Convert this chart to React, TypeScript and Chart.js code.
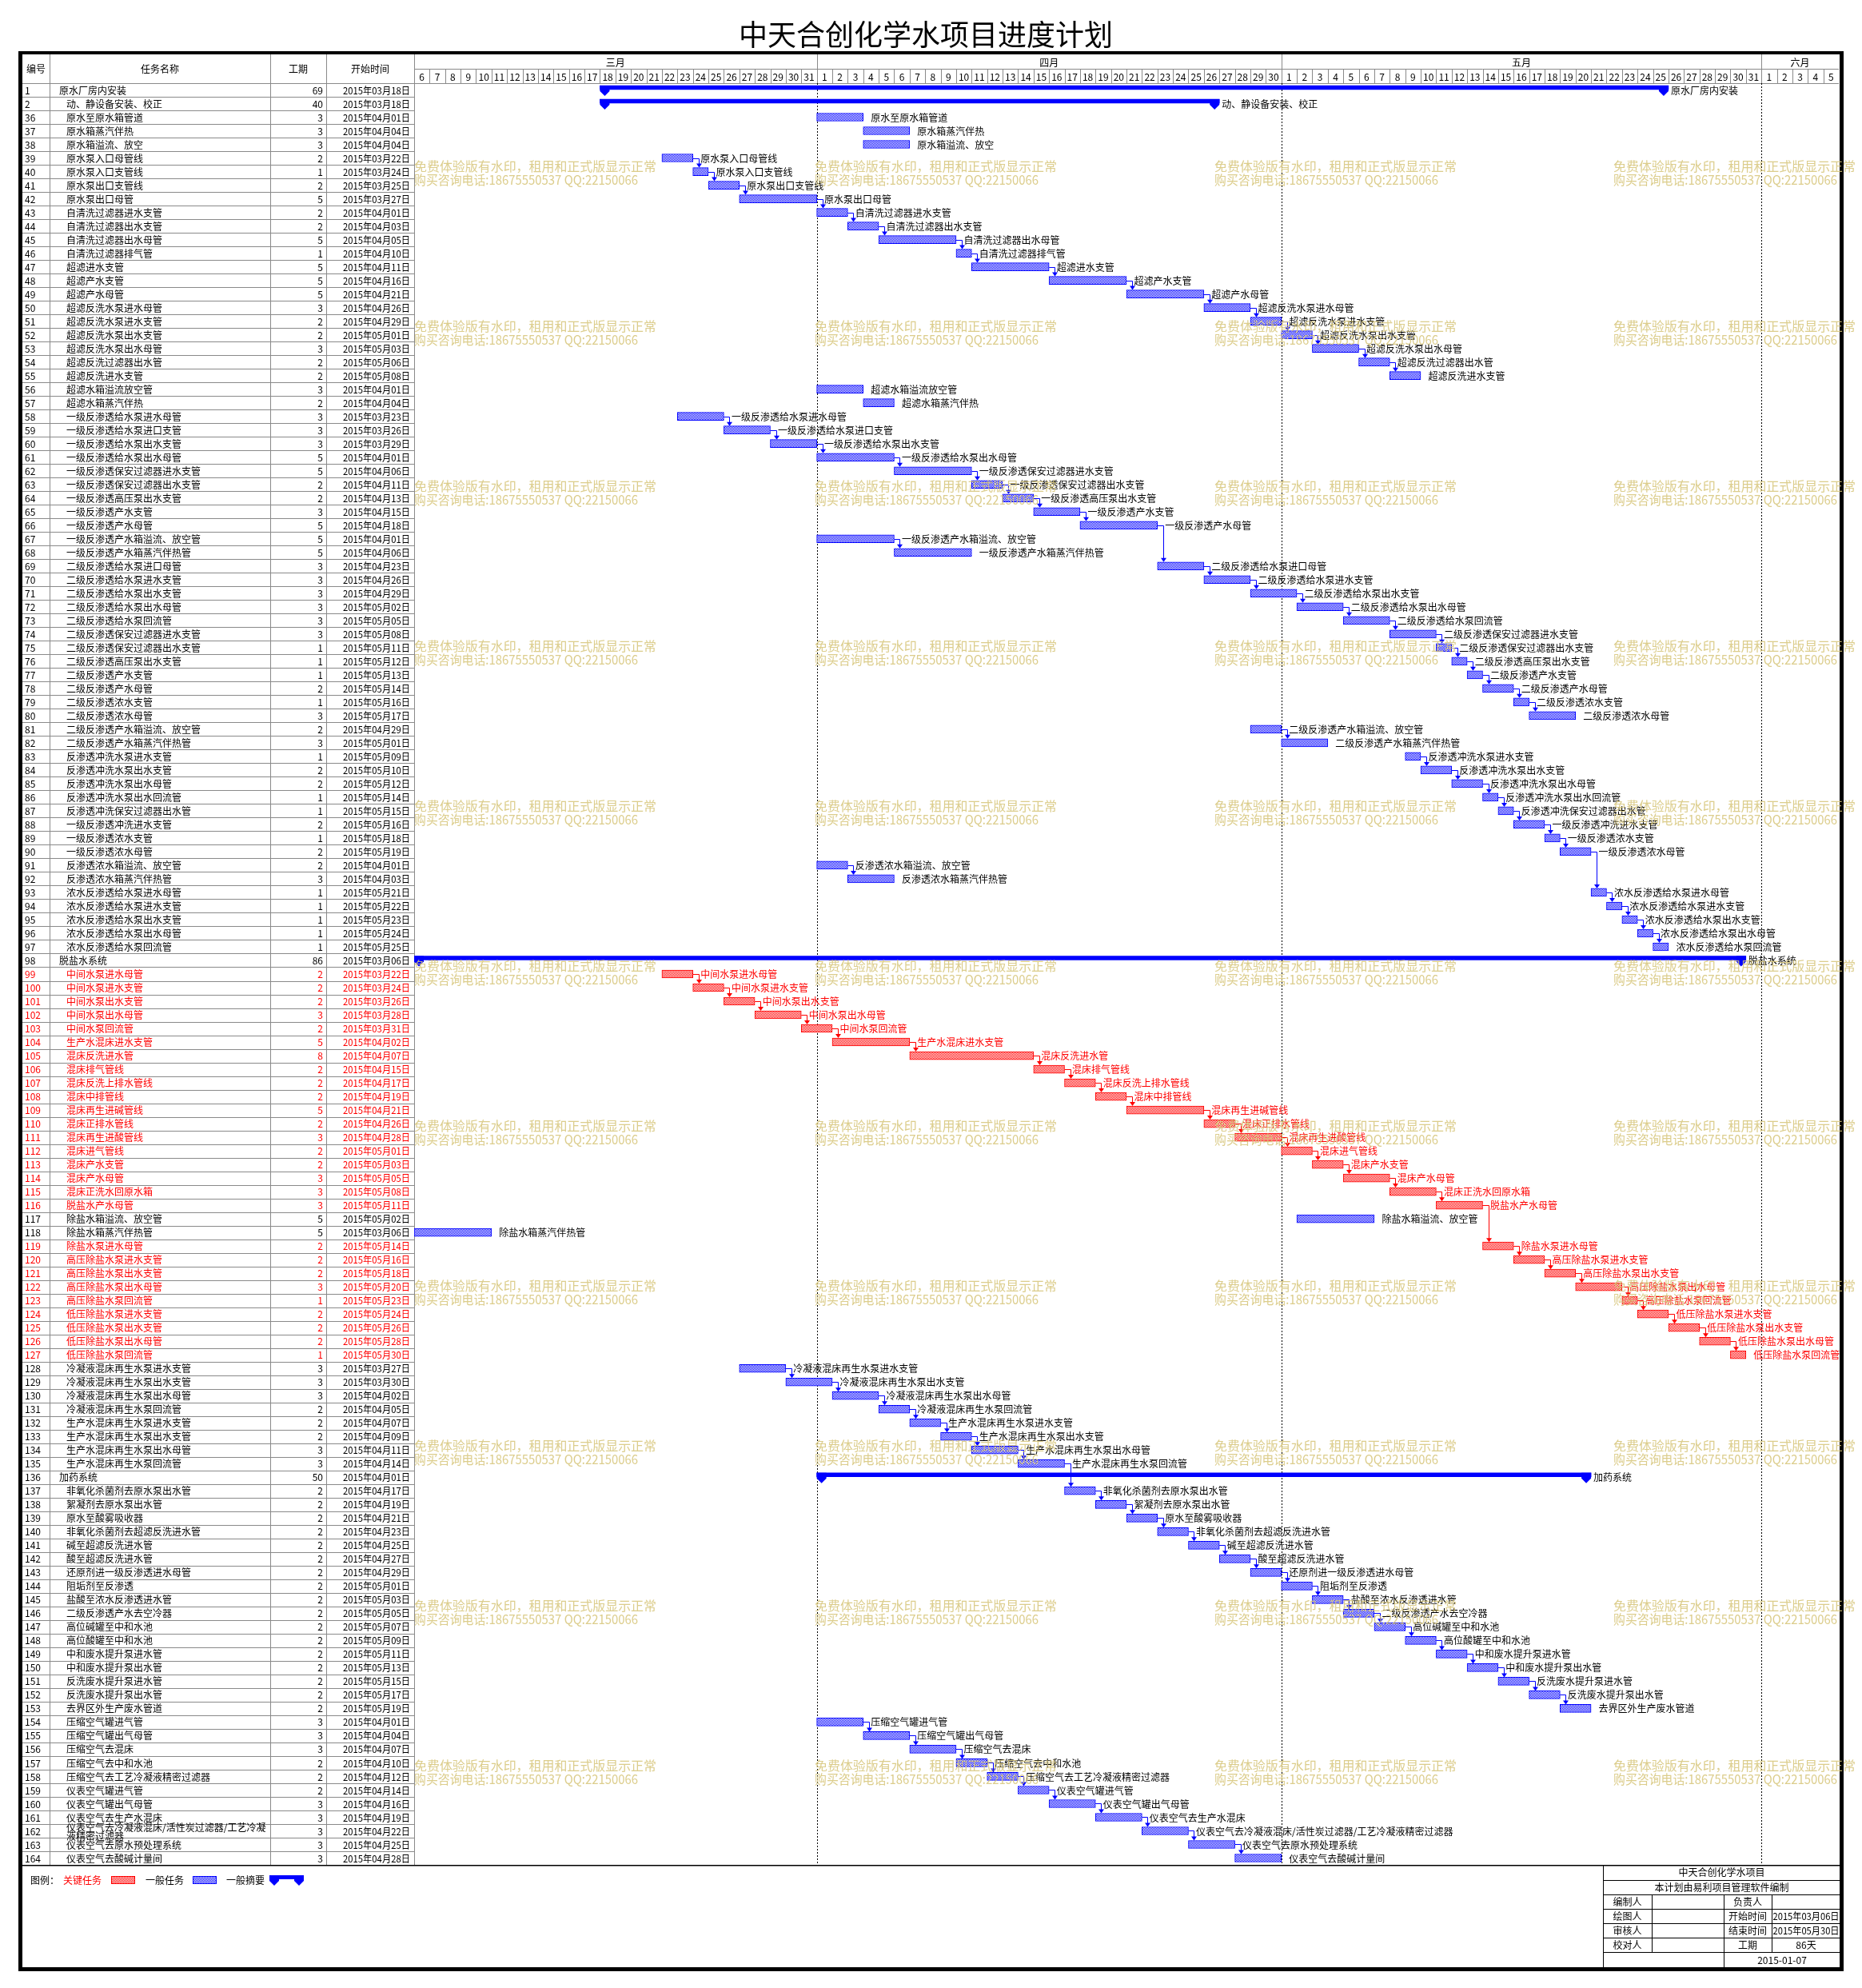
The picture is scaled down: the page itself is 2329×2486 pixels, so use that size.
import React, { useEffect, useRef } from "react";
import { Chart, registerables } from "chart.js";

Chart.register(...registerables);

// ---------------- data ----------------
const chartTitle = "中天合创化学水项目进度计划";
const columnHeaders = ["编号", "任务名称", "工期", "开始时间"];
const monthNames = ["三月", "四月", "五月", "六月"];
const monthFirstShownDay = [6, 1, 1, 1];
const monthShownDays = [26, 30, 31, 5];

const taskIds = [
  1, 2, 36, 37, 38, 39, 40, 41, 42, 43, 44, 45, 46, 47, 48, 49, 50, 51, 52, 53, 54, 55, 56, 57,
  58, 59, 60, 61, 62, 63, 64, 65, 66, 67, 68, 69, 70, 71, 72, 73, 74, 75, 76, 77, 78, 79, 80,
  81, 82, 83, 84, 85, 86, 87, 88, 89, 90, 91, 92, 93, 94, 95, 96, 97, 98, 99, 100, 101, 102,
  103, 104, 105, 106, 107, 108, 109, 110, 111, 112, 113, 114, 115, 116, 117, 118, 119, 120,
  121, 122, 123, 124, 125, 126, 127, 128, 129, 130, 131, 132, 133, 134, 135, 136, 137, 138,
  139, 140, 141, 142, 143, 144, 145, 146, 147, 148, 149, 150, 151, 152, 153, 154, 155, 156,
  157, 158, 159, 160, 161, 162, 163, 164,
];

const taskNames = [
  "原水厂房内安装", "动、静设备安装、校正", "原水至原水箱管道", "原水箱蒸汽伴热", "原水箱溢流、放空",
  "原水泵入口母管线", "原水泵入口支管线", "原水泵出口支管线", "原水泵出口母管", "自清洗过滤器进水支管",
  "自清洗过滤器出水支管", "自清洗过滤器出水母管", "自清洗过滤器排气管", "超滤进水支管", "超滤产水支管",
  "超滤产水母管", "超滤反洗水泵进水母管", "超滤反洗水泵进水支管", "超滤反洗水泵出水支管", "超滤反洗水泵出水母管",
  "超滤反洗过滤器出水管", "超滤反洗进水支管", "超滤水箱溢流放空管", "超滤水箱蒸汽伴热",
  "一级反渗透给水泵进水母管", "一级反渗透给水泵进口支管", "一级反渗透给水泵出水支管", "一级反渗透给水泵出水母管",
  "一级反渗透保安过滤器进水支管", "一级反渗透保安过滤器出水支管", "一级反渗透高压泵出水支管", "一级反渗透产水支管",
  "一级反渗透产水母管", "一级反渗透产水箱溢流、放空管", "一级反渗透产水箱蒸汽伴热管", "二级反渗透给水泵进口母管",
  "二级反渗透给水泵进水支管", "二级反渗透给水泵出水支管", "二级反渗透给水泵出水母管", "二级反渗透给水泵回流管",
  "二级反渗透保安过滤器进水支管", "二级反渗透保安过滤器出水支管", "二级反渗透高压泵出水支管", "二级反渗透产水支管",
  "二级反渗透产水母管", "二级反渗透浓水支管", "二级反渗透浓水母管", "二级反渗透产水箱溢流、放空管",
  "二级反渗透产水箱蒸汽伴热管", "反渗透冲洗水泵进水支管", "反渗透冲洗水泵出水支管", "反渗透冲洗水泵出水母管",
  "反渗透冲洗水泵出水回流管", "反渗透冲洗保安过滤器出水管", "一级反渗透冲洗进水支管", "一级反渗透浓水支管",
  "一级反渗透浓水母管", "反渗透浓水箱溢流、放空管", "反渗透浓水箱蒸汽伴热管", "浓水反渗透给水泵进水母管",
  "浓水反渗透给水泵进水支管", "浓水反渗透给水泵出水支管", "浓水反渗透给水泵出水母管", "浓水反渗透给水泵回流管",
  "脱盐水系统", "中间水泵进水母管", "中间水泵进水支管", "中间水泵出水支管", "中间水泵出水母管", "中间水泵回流管",
  "生产水混床进水支管", "混床反洗进水管", "混床排气管线", "混床反洗上排水管线", "混床中排管线", "混床再生进碱管线",
  "混床正排水管线", "混床再生进酸管线", "混床进气管线", "混床产水支管", "混床产水母管", "混床正洗水回原水箱",
  "脱盐水产水母管", "除盐水箱溢流、放空管", "除盐水箱蒸汽伴热管", "除盐水泵进水母管", "高压除盐水泵进水支管",
  "高压除盐水泵出水支管", "高压除盐水泵出水母管", "高压除盐水泵回流管", "低压除盐水泵进水支管", "低压除盐水泵出水支管",
  "低压除盐水泵出水母管", "低压除盐水泵回流管", "冷凝液混床再生水泵进水支管", "冷凝液混床再生水泵出水支管",
  "冷凝液混床再生水泵出水母管", "冷凝液混床再生水泵回流管", "生产水混床再生水泵进水支管", "生产水混床再生水泵出水支管",
  "生产水混床再生水泵出水母管", "生产水混床再生水泵回流管", "加药系统", "非氧化杀菌剂去原水泵出水管",
  "絮凝剂去原水泵出水管", "原水至酸雾吸收器", "非氧化杀菌剂去超滤反洗进水管", "碱至超滤反洗进水管",
  "酸至超滤反洗进水管", "还原剂进一级反渗透进水母管", "阻垢剂至反渗透", "盐酸至浓水反渗透进水管",
  "二级反渗透产水去空冷器", "高位碱罐至中和水池", "高位酸罐至中和水池", "中和废水提升泵进水管", "中和废水提升泵出水管",
  "反洗废水提升泵进水管", "反洗废水提升泵出水管", "去界区外生产废水管道", "压缩空气罐进气管", "压缩空气罐出气母管",
  "压缩空气去混床", "压缩空气去中和水池", "压缩空气去工艺冷凝液精密过滤器", "仪表空气罐进气管", "仪表空气罐出气母管",
  "仪表空气去生产水混床", "仪表空气去冷凝液混床/活性炭过滤器/工艺冷凝液精密过滤器", "仪表空气去原水预处理系统",
  "仪表空气去酸碱计量间",
];

const taskDurations = [
  69, 40, 3, 3, 3, 2, 1, 2, 5, 2, 2, 5, 1, 5, 5, 5, 3, 2, 2, 3, 2, 2, 3, 2,
  3, 3, 3, 5, 5, 2, 2, 3, 5, 5, 5, 3, 3, 3, 3, 3, 3, 1, 1, 1, 2, 1, 3,
  2, 3, 1, 2, 2, 1, 1, 2, 1, 2, 2, 3, 1, 1, 1, 1, 1, 86, 2, 2, 2, 3,
  2, 5, 8, 2, 2, 2, 5, 2, 3, 2, 2, 3, 3, 3, 5, 5, 2, 2,
  2, 3, 1, 2, 2, 2, 1, 3, 3, 3, 2, 2, 2, 3, 3, 50, 2, 2,
  2, 2, 2, 2, 2, 2, 2, 2, 2, 2, 2, 2, 2, 2, 2, 3, 3, 3,
  2, 2, 2, 3, 3, 3, 3, 3,
];

const taskStarts = [
  "2015年03月18日", "2015年03月18日", "2015年04月01日", "2015年04月04日", "2015年04月04日", "2015年03月22日",
  "2015年03月24日", "2015年03月25日", "2015年03月27日", "2015年04月01日", "2015年04月03日", "2015年04月05日",
  "2015年04月10日", "2015年04月11日", "2015年04月16日", "2015年04月21日", "2015年04月26日", "2015年04月29日",
  "2015年05月01日", "2015年05月03日", "2015年05月06日", "2015年05月08日", "2015年04月01日", "2015年04月04日",
  "2015年03月23日", "2015年03月26日", "2015年03月29日", "2015年04月01日", "2015年04月06日", "2015年04月11日",
  "2015年04月13日", "2015年04月15日", "2015年04月18日", "2015年04月01日", "2015年04月06日", "2015年04月23日",
  "2015年04月26日", "2015年04月29日", "2015年05月02日", "2015年05月05日", "2015年05月08日", "2015年05月11日",
  "2015年05月12日", "2015年05月13日", "2015年05月14日", "2015年05月16日", "2015年05月17日", "2015年04月29日",
  "2015年05月01日", "2015年05月09日", "2015年05月10日", "2015年05月12日", "2015年05月14日", "2015年05月15日",
  "2015年05月16日", "2015年05月18日", "2015年05月19日", "2015年04月01日", "2015年04月03日", "2015年05月21日",
  "2015年05月22日", "2015年05月23日", "2015年05月24日", "2015年05月25日", "2015年03月06日", "2015年03月22日",
  "2015年03月24日", "2015年03月26日", "2015年03月28日", "2015年03月31日", "2015年04月02日", "2015年04月07日",
  "2015年04月15日", "2015年04月17日", "2015年04月19日", "2015年04月21日", "2015年04月26日", "2015年04月28日",
  "2015年05月01日", "2015年05月03日", "2015年05月05日", "2015年05月08日", "2015年05月11日", "2015年05月02日",
  "2015年03月06日", "2015年05月14日", "2015年05月16日", "2015年05月18日", "2015年05月20日", "2015年05月23日",
  "2015年05月24日", "2015年05月26日", "2015年05月28日", "2015年05月30日", "2015年03月27日", "2015年03月30日",
  "2015年04月02日", "2015年04月05日", "2015年04月07日", "2015年04月09日", "2015年04月11日", "2015年04月14日",
  "2015年04月01日", "2015年04月17日", "2015年04月19日", "2015年04月21日", "2015年04月23日", "2015年04月25日",
  "2015年04月27日", "2015年04月29日", "2015年05月01日", "2015年05月03日", "2015年05月05日", "2015年05月07日",
  "2015年05月09日", "2015年05月11日", "2015年05月13日", "2015年05月15日", "2015年05月17日", "2015年05月19日",
  "2015年04月01日", "2015年04月04日", "2015年04月07日", "2015年04月10日", "2015年04月12日", "2015年04月14日",
  "2015年04月16日", "2015年04月19日", "2015年04月22日", "2015年04月25日", "2015年04月28日",
];

const summaryTaskIds = [1, 2, 98, 136];
const topLevelTaskIds = [1, 98, 136];
const criticalTaskIds = [
  99, 100, 101, 102, 103, 104, 105, 106, 107, 108, 109, 110, 111, 112, 113, 114, 115, 116,
  119, 120, 121, 122, 123, 124, 125, 126, 127,
];

// predecessor chains (each consecutive pair is a finish-to-start link)
const linkChains = [
  [39, 40, 41, 42, 43, 44, 45, 46, 47, 48, 49, 50, 51, 52, 53, 54, 55],
  [58, 59, 60, 61, 62, 63, 64, 65, 66, 69, 70, 71, 72, 73, 74, 75, 76, 77, 78, 79, 80],
  [67, 68],
  [81, 82],
  [83, 84, 85, 86, 87, 88, 89, 90, 93, 94, 95, 96, 97],
  [91, 92],
  [99, 100, 101, 102, 103, 104, 105, 106, 107, 108, 109, 110, 111, 112, 113, 114, 115, 116,
    119, 120, 121, 122, 123, 124, 125, 126, 127],
  [128, 129, 130, 131, 132, 133, 134, 135, 137, 138, 139, 140, 141, 142, 143, 144, 145, 146,
    147, 148, 149, 150, 151, 152, 153],
  [154, 155, 156, 157, 158, 159, 160, 161, 162, 163, 164],
];

const legendTitle = "图例：";
const legendCritical = "关键任务";
const legendNormal = "一般任务";
const legendSummary = "一般摘要";

const footerTitle = "中天合创化学水项目";
const footerNote = "本计划由易利项目管理软件编制";
const footerLeftLabels = ["编制人", "绘图人", "审核人", "校对人"];
const footerRightLabels = ["负责人", "开始时间", "结束时间", "工期"];
const footerRightValues = ["", "2015年03月06日", "2015年05月30日", "86天"];
const footerDate = "2015-01-07";

const watermarkLines = ["免费体验版有水印，租用和正式版显示正常", "购买咨询电话:18675550537 QQ:22150066"];

// ---------------- helpers ----------------
const CJK = '"Noto Sans CJK SC", "Noto Sans", sans-serif';
const totalDays = monthShownDays.reduce((a, b) => a + b, 0);

function dayIndex(s: string): number {
  const m = parseInt(s.slice(5, 7), 10);
  const d = parseInt(s.slice(8, 10), 10);
  let off = 0;
  for (let k = 0; k < m - 3; k++) off += monthShownDays[k];
  return off + d - monthFirstShownDay[m - 3];
}

const taskRanges = taskIds.map((_, i) => {
  const s = dayIndex(taskStarts[i]);
  return [s, s + taskDurations[i]];
});

function kindOf(id: number): string {
  if (summaryTaskIds.includes(id)) return "S";
  if (criticalTaskIds.includes(id)) return "C";
  return "N";
}

function makePattern(color: string): CanvasPattern | string {
  const c = document.createElement("canvas");
  c.width = 2;
  c.height = 2;
  const g = c.getContext("2d");
  if (!g) return color;
  g.fillStyle = "#ffffff";
  g.fillRect(0, 0, 2, 2);
  g.fillStyle = color;
  g.fillRect(0, 0, 1, 1);
  g.fillRect(1, 1, 1, 1);
  const p = g.createPattern(c, "repeat");
  return p || color;
}

// layout constants
const COL_X = [28, 62, 338, 408, 518];
const HEAD_TOP = 68;
const HEAD_MID = 86;

const ganttPlugin = {
  id: "ganttDecor",
  beforeDraw(chart: any) {
    const ctx: CanvasRenderingContext2D = chart.ctx;
    const xs = chart.scales.x;
    const ys = chart.scales.y;
    const area = chart.chartArea;
    const n = taskIds.length;
    const rowH = (area.bottom - area.top) / n;
    ctx.save();
    ctx.fillStyle = "#ffffff";
    ctx.fillRect(0, 0, chart.width, chart.height);

    // title
    ctx.fillStyle = "#000";
    ctx.font = `36px ${CJK}`;
    ctx.textAlign = "center";
    ctx.textBaseline = "middle";
    ctx.fillText(chartTitle, 1158, 43);

    const hline = (x1: number, x2: number, y: number) => {
      const yy = Math.round(y) + 0.5;
      ctx.beginPath();
      ctx.moveTo(x1, yy);
      ctx.lineTo(x2, yy);
      ctx.stroke();
    };
    const vline = (x: number, y1: number, y2: number) => {
      const xx = Math.round(x) + 0.5;
      ctx.beginPath();
      ctx.moveTo(xx, y1);
      ctx.lineTo(xx, y2);
      ctx.stroke();
    };

    // grid (grey)
    ctx.strokeStyle = "#8a8a8a";
    ctx.lineWidth = 1;
    hline(COL_X[0], area.right, area.top);
    hline(area.left, area.right, HEAD_MID);
    for (let k = 1; k < COL_X.length; k++) vline(COL_X[k], HEAD_TOP, area.bottom);
    for (let i = 0; i < n; i++) {
      const yb = ys.getPixelForValue(i) + rowH / 2;
      hline(COL_X[0], area.left, yb);
    }
    for (let d = 1; d < totalDays; d++) vline(xs.getPixelForValue(d), HEAD_MID, area.top);
    let acc = 0;
    for (let m = 0; m < monthShownDays.length - 1; m++) {
      acc += monthShownDays[m];
      vline(xs.getPixelForValue(acc), HEAD_TOP, HEAD_MID);
    }

    // header text
    ctx.fillStyle = "#000";
    ctx.font = `12px ${CJK}`;
    ctx.textAlign = "center";
    ctx.textBaseline = "middle";
    for (let k = 0; k < columnHeaders.length; k++) {
      ctx.fillText(columnHeaders[k], (COL_X[k] + COL_X[k + 1]) / 2, (HEAD_TOP + area.top) / 2);
    }
    acc = 0;
    for (let m = 0; m < monthNames.length; m++) {
      const x0 = xs.getPixelForValue(acc);
      const x1 = xs.getPixelForValue(acc + monthShownDays[m]);
      ctx.fillText(monthNames[m], (x0 + x1) / 2, (HEAD_TOP + HEAD_MID) / 2 + 1);
      for (let d = 0; d < monthShownDays[m]; d++) {
        const a = xs.getPixelForValue(acc + d);
        const b = xs.getPixelForValue(acc + d + 1);
        ctx.fillText(String(monthFirstShownDay[m] + d), (a + b) / 2, (HEAD_MID + area.top) / 2 + 1, b - a - 2);
      }
      acc += monthShownDays[m];
    }

    // month boundary dotted lines in body
    ctx.strokeStyle = "#000";
    ctx.setLineDash([2, 2]);
    acc = 0;
    for (let m = 0; m < monthShownDays.length - 1; m++) {
      acc += monthShownDays[m];
      vline(xs.getPixelForValue(acc), area.top, area.bottom);
    }
    ctx.setLineDash([]);

    // table rows
    ctx.font = `12px ${CJK}`;
    ctx.textBaseline = "middle";
    for (let i = 0; i < n; i++) {
      const id = taskIds[i];
      const y = ys.getPixelForValue(i) + 0.5;
      const color = kindOf(id) === "C" ? "#ff0000" : "#000000";
      ctx.fillStyle = color;
      ctx.textAlign = "left";
      ctx.fillText(String(id), 31, y);
      const nx = topLevelTaskIds.includes(id) ? 74 : 83;
      const avail = COL_X[2] - nx - 2;
      const name = taskNames[i];
      if (ctx.measureText(name).width > avail) {
        let cut = name.length;
        while (cut > 1 && ctx.measureText(name.slice(0, cut)).width > avail) cut--;
        ctx.fillText(name.slice(0, cut), nx, y - 4.5);
        ctx.fillText(name.slice(cut), nx, y + 6.8);
      } else {
        ctx.fillText(name, nx, y);
      }
      ctx.textAlign = "right";
      ctx.fillText(String(taskDurations[i]), 404, y);
      ctx.fillText(taskStarts[i], 513, y, 84);
    }
    ctx.restore();
  },
  beforeDatasetDraw(chart: any, args: any) {
    if (args.index === 2) {
      chart.ctx.save();
      chart.ctx.translate(0, -3);
    }
  },
  afterDatasetDraw(chart: any, args: any) {
    if (args.index === 2) chart.ctx.restore();
  },
  afterDatasetsDraw(chart: any) {
    const ctx: CanvasRenderingContext2D = chart.ctx;
    const xs = chart.scales.x;
    const ys = chart.scales.y;
    const area = chart.chartArea;
    const n = taskIds.length;
    ctx.save();

    const drawCaps = (xa: number, xb: number, t: number) => {
      const cap = (x0: number, x1: number) => {
        const cx = (x0 + x1) / 2;
        ctx.beginPath();
        ctx.moveTo(x0, t);
        ctx.lineTo(x1, t);
        ctx.lineTo(x1, t + 7);
        ctx.lineTo(cx, t + 13);
        ctx.lineTo(x0, t + 7);
        ctx.closePath();
        ctx.fill();
      };
      cap(xa, xa + 12);
      cap(xb - 12, xb);
    };

    // summary caps
    ctx.fillStyle = "#0000ff";
    for (let i = 0; i < n; i++) {
      if (kindOf(taskIds[i]) !== "S") continue;
      const xa = xs.getPixelForValue(taskRanges[i][0]);
      const xb = xs.getPixelForValue(taskRanges[i][1]);
      const t = ys.getPixelForValue(i) - 5.5;
      drawCaps(xa, xb, t);
    }

    // links
    ctx.lineWidth = 1;
    for (const chain of linkChains) {
      for (let k = 0; k < chain.length - 1; k++) {
        const ia = taskIds.indexOf(chain[k]);
        const ib = taskIds.indexOf(chain[k + 1]);
        const crit = kindOf(chain[k]) === "C" && kindOf(chain[k + 1]) === "C";
        const col = crit ? "#ff0000" : "#0000ff";
        ctx.strokeStyle = col;
        ctx.fillStyle = col;
        const xe = xs.getPixelForValue(taskRanges[ia][1]);
        const ya = Math.round(ys.getPixelForValue(ia)) + 0.5;
        const yb = ys.getPixelForValue(ib) - 5;
        const xc = Math.round(xe + 7) + 0.5;
        ctx.beginPath();
        ctx.moveTo(xe, ya);
        ctx.lineTo(xc, ya);
        ctx.lineTo(xc, yb - 4);
        ctx.stroke();
        ctx.beginPath();
        ctx.moveTo(xc - 3.5, yb - 5);
        ctx.lineTo(xc + 3.5, yb - 5);
        ctx.lineTo(xc, yb);
        ctx.closePath();
        ctx.fill();
      }
    }

    // bar labels
    ctx.font = `12px ${CJK}`;
    ctx.textAlign = "left";
    ctx.textBaseline = "middle";
    for (let i = 0; i < n; i++) {
      const k = kindOf(taskIds[i]);
      const xe = xs.getPixelForValue(taskRanges[i][1]);
      ctx.fillStyle = k === "C" ? "#ff0000" : "#000000";
      ctx.fillText(taskNames[i], xe + (k === "S" ? 3 : 9.5), ys.getPixelForValue(i) + 0.5);
    }

    // line under table
    ctx.fillStyle = "#000";
    ctx.fillRect(COL_X[0], Math.round(area.bottom), 2301 - COL_X[0], 1.5);

    // legend
    const ly = 2351;
    ctx.font = `12px ${CJK}`;
    ctx.textBaseline = "middle";
    ctx.textAlign = "left";
    ctx.fillStyle = "#000";
    ctx.fillText(legendTitle, 38, ly);
    ctx.fillStyle = "#ff0000";
    ctx.fillText(legendCritical, 79, ly);
    const redPat = makePattern("#ff0000");
    const bluePat = makePattern("#0000ff");
    ctx.fillStyle = redPat as any;
    ctx.fillRect(139, ly - 5, 30, 10);
    ctx.strokeStyle = "#ff0000";
    ctx.strokeRect(139.5, ly - 4.5, 29, 9);
    ctx.fillStyle = "#000";
    ctx.fillText(legendNormal, 182, ly);
    ctx.fillStyle = bluePat as any;
    ctx.fillRect(241, ly - 5, 30, 10);
    ctx.strokeStyle = "#0000ff";
    ctx.strokeRect(241.5, ly - 4.5, 29, 9);
    ctx.fillStyle = "#000";
    ctx.fillText(legendSummary, 283, ly);
    ctx.fillStyle = "#0000ff";
    ctx.fillRect(337, ly - 6, 43, 5);
    drawCaps(337, 380, ly - 6);

    // footer table
    const fx = [2005, 2066, 2156, 2216, 2302];
    const fy = [2332, 2350.5, 2369, 2387, 2405, 2423, 2441, 2460];
    ctx.strokeStyle = "#000";
    ctx.lineWidth = 1;
    const hl = (x1: number, x2: number, y: number) => {
      ctx.beginPath();
      ctx.moveTo(x1, Math.round(y) + 0.5);
      ctx.lineTo(x2, Math.round(y) + 0.5);
      ctx.stroke();
    };
    const vl = (x: number, y1: number, y2: number) => {
      ctx.beginPath();
      ctx.moveTo(Math.round(x) + 0.5, y1);
      ctx.lineTo(Math.round(x) + 0.5, y2);
      ctx.stroke();
    };
    for (let r = 1; r < fy.length - 1; r++) hl(fx[0], fx[4], fy[r]);
    vl(fx[0], fy[0], fy[7]);
    vl(fx[1], fy[2], fy[6]);
    vl(fx[2], fy[2], fy[7]);
    vl(fx[3], fy[2], fy[6]);
    ctx.fillStyle = "#000";
    ctx.textAlign = "center";
    const mid = (a: number, b: number) => (a + b) / 2;
    ctx.fillText(footerTitle, mid(fx[0], fx[4]), mid(fy[0], fy[1]) + 0.5);
    ctx.fillText(footerNote, mid(fx[0], fx[4]), mid(fy[1], fy[2]) + 0.5);
    for (let r = 0; r < 4; r++) {
      const yc = mid(fy[r + 2], fy[r + 3]) + 0.5;
      ctx.fillText(footerLeftLabels[r], mid(fx[0], fx[1]), yc);
      ctx.fillText(footerRightLabels[r], mid(fx[2], fx[3]), yc);
      if (footerRightValues[r]) ctx.fillText(footerRightValues[r], mid(fx[3], fx[4]), yc, fx[4] - fx[3] - 3);
    }
    ctx.fillText(footerDate, mid(fx[2], fx[4]), mid(fy[6], fy[7]) + 0.5);

    // outer border
    ctx.fillStyle = "#000";
    ctx.fillRect(23, 64, 2283, 4);
    ctx.fillRect(23, 64, 5, 2401);
    ctx.fillRect(2301, 64, 5, 2401);
    ctx.fillRect(23, 2460, 2283, 5);

    // watermark
    ctx.font = `16px ${CJK}`;
    ctx.textAlign = "left";
    ctx.textBaseline = "middle";
    ctx.fillStyle = "rgba(214, 196, 120, 0.85)";
    const wxs = [518, 1019, 1519, 2018];
    for (let r = 0; r < 11; r++) {
      const wy = 208 + r * 200;
      for (const wx of wxs) {
        ctx.fillText(watermarkLines[0], wx, wy, 303);
        ctx.fillText(watermarkLines[1], wx, wy + 17, 280);
      }
    }
    ctx.restore();
  },
};

export default function App() {
  const ref = useRef<HTMLCanvasElement | null>(null);
  useEffect(() => {
    document.body.style.margin = "0";
    document.documentElement.style.overflow = "hidden";
    let chart: Chart | null = null;
    let cancelled = false;
    const build = () => {
      if (cancelled || !ref.current) return;
      const bluePat = makePattern("#0000ff");
      const redPat = makePattern("#ff0000");
      chart = new Chart(ref.current, {
        type: "bar",
        data: {
          labels: taskIds.map(String),
          datasets: [
            {
              label: legendNormal,
              data: taskIds.map((id, i) => (kindOf(id) === "N" ? taskRanges[i] : null)) as any,
              backgroundColor: bluePat as any,
              borderColor: "#0000ff",
              borderWidth: 1,
              borderSkipped: false,
              barThickness: 10,
              grouped: false,
            },
            {
              label: legendCritical,
              data: taskIds.map((id, i) => (kindOf(id) === "C" ? taskRanges[i] : null)) as any,
              backgroundColor: redPat as any,
              borderColor: "#ff0000",
              borderWidth: 1,
              borderSkipped: false,
              barThickness: 10,
              grouped: false,
            },
            {
              label: legendSummary,
              data: taskIds.map((id, i) => (kindOf(id) === "S" ? taskRanges[i] : null)) as any,
              backgroundColor: "#0000ff",
              borderWidth: 0,
              borderSkipped: false,
              barThickness: 5,
              grouped: false,
            },
          ],
        },
        options: {
          indexAxis: "y",
          responsive: false,
          animation: false,
          devicePixelRatio: 1,
          layout: { padding: { left: 518, right: 29, top: 104, bottom: 154 } },
          scales: {
            x: { type: "linear", min: 0, max: totalDays, display: false },
            y: { type: "category", display: false, offset: true },
          },
          plugins: {
            legend: { display: false },
            tooltip: { enabled: false },
            title: { display: false },
          },
        } as any,
        plugins: [ganttPlugin as any],
      });
    };
    const fontsApi = (document as any).fonts;
    if (fontsApi && fontsApi.load) {
      Promise.all([fontsApi.load(`12px ${CJK}`), fontsApi.load(`36px ${CJK}`)])
        .catch(() => null)
        .then(build);
    } else {
      build();
    }
    return () => {
      cancelled = true;
      if (chart) chart.destroy();
    };
  }, []);
  return <canvas ref={ref} width={2329} height={2486} style={{ display: "block" }} />;
}
